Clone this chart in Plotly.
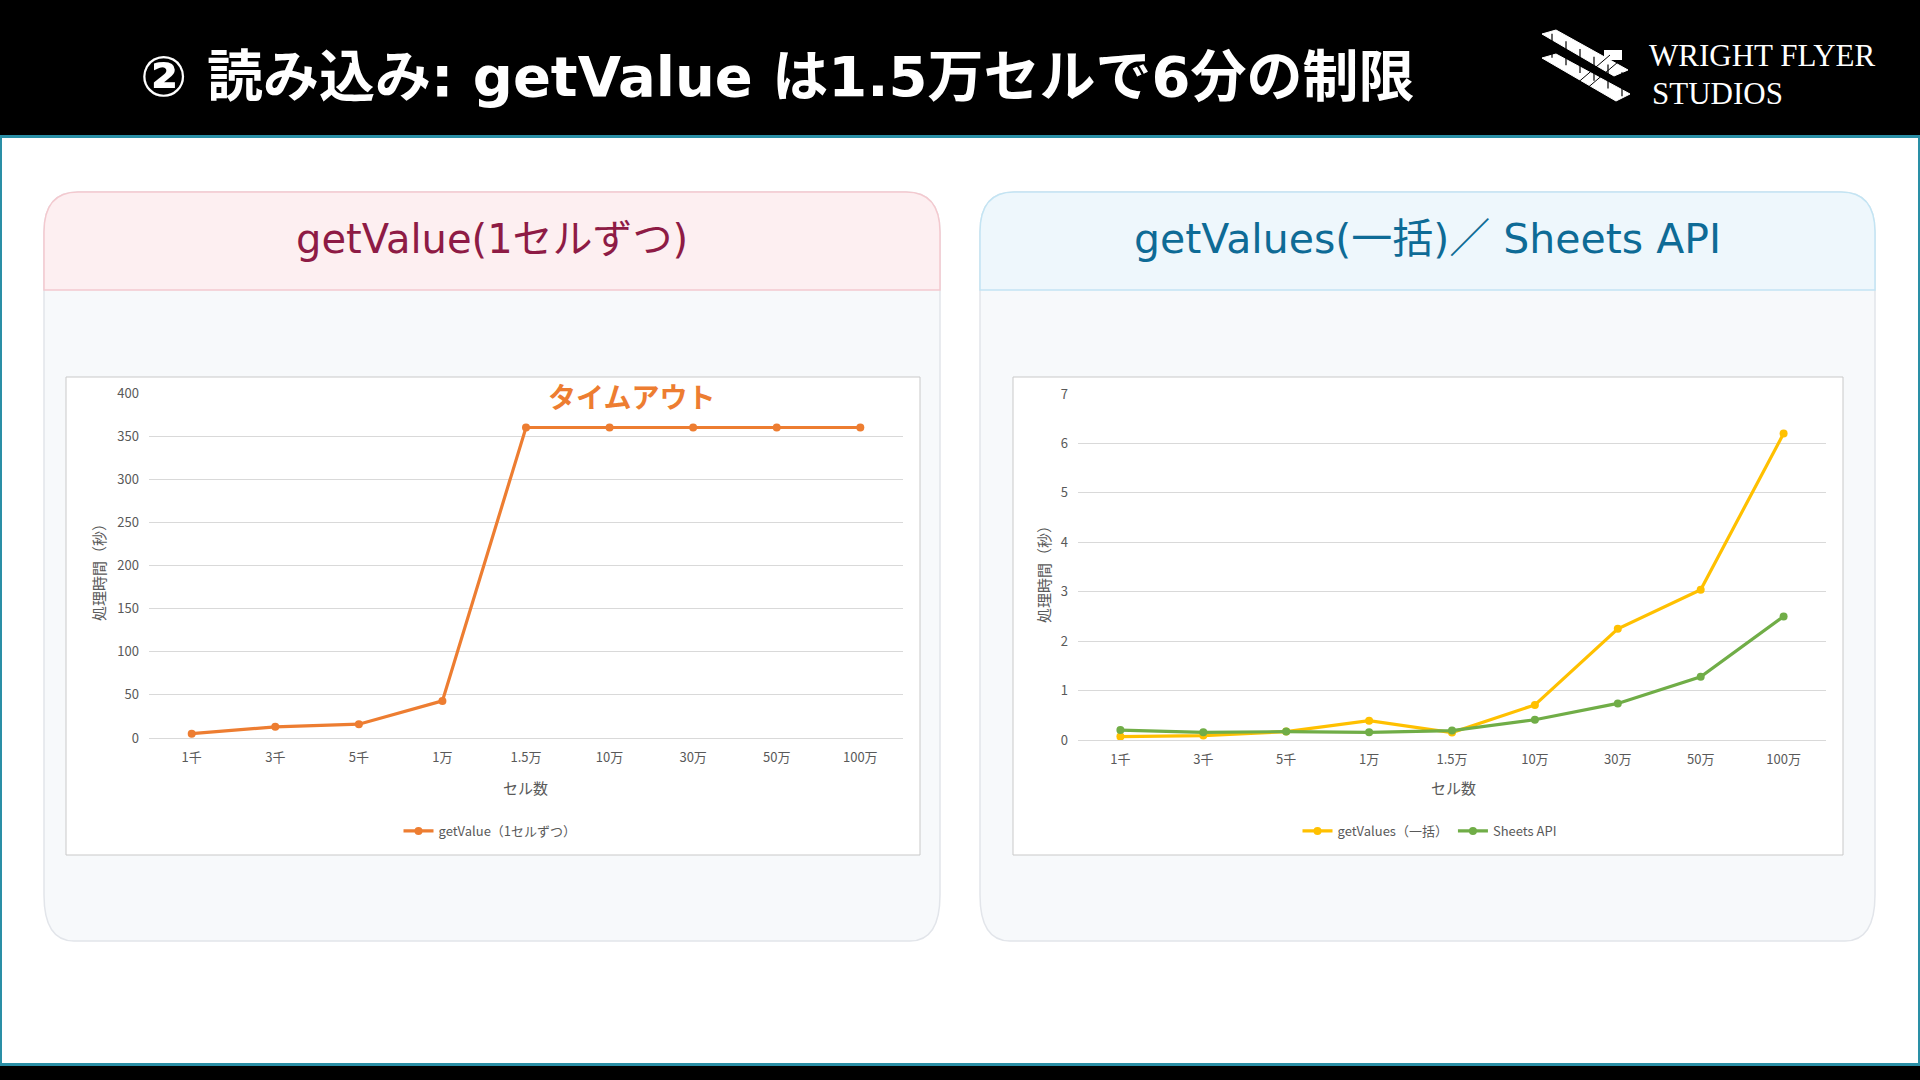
import plotly.graph_objects as go

W = 1920
H = 1080
FONT = "Noto Sans CJK JP"
HEAD_FONT = "DejaVu Sans, Noto Sans CJK JP"

cells = ["1千", "3千", "5千", "1万", "1.5万", "10万", "30万", "50万", "100万"]
get_value_sec = [5, 13, 16, 43, 360, 360, 360, 360, 360]
get_values_sec = [0.07, 0.09, 0.17, 0.39, 0.15, 0.71, 2.25, 3.04, 6.2]
sheets_api_sec = [0.2, 0.155, 0.17, 0.155, 0.19, 0.41, 0.74, 1.28, 2.5]

slide_title = "② 読み込み: getValue は1.5万セルで6分の制限"
left_heading = "getValue(1セルずつ)"
right_heading = "getValues(一括)／ Sheets API"
left_series = "getValue（1セルずつ）"
right_series = ["getValues（一括）", "Sheets API"]
y_title = "処理時間（秒）"
x_title = "セル数"

ORANGE = "#ED7D31"
YELLOW = "#FFC000"
GREEN = "#70AD47"
TEAL = "#2a8fa6"


def px(x):
    return x / W


def py(y):
    return 1 - y / H


def pt(x, y):
    return "%.5f,%.5f" % (px(x), py(y))


def rounded_path(x0, y0, x1, y1, rtx, rty, rbx, rby):
    # rounded box, separate radius for top and bottom corners
    p = "M " + pt(x0 + rtx, y0)
    p += " L " + pt(x1 - rtx, y0)
    p += " Q " + pt(x1, y0) + " " + pt(x1, y0 + rty)
    if rbx > 0:
        p += " L " + pt(x1, y1 - rby)
        p += " Q " + pt(x1, y1) + " " + pt(x1 - rbx, y1)
        p += " L " + pt(x0 + rbx, y1)
        p += " Q " + pt(x0, y1) + " " + pt(x0, y1 - rby)
    else:
        p += " L " + pt(x1, y1)
        p += " L " + pt(x0, y1)
    p += " L " + pt(x0, y0 + rty)
    p += " Q " + pt(x0, y0) + " " + pt(x0 + rtx, y0)
    return p + " Z"


def rect(x0, y0, x1, y1, fill, line_color=None, width=0):
    return dict(type="rect", xref="paper", yref="paper", layer="below",
                x0=px(x0), x1=px(x1), y0=py(y1), y1=py(y0),
                fillcolor=fill, line=dict(color=line_color or fill, width=width))


def path(d, fill, line_color, width):
    return dict(type="path", xref="paper", yref="paper", layer="below", path=d,
                fillcolor=fill, line=dict(color=line_color, width=width))


def line(x0, y0, x1, y1, color, width):
    return dict(type="line", xref="paper", yref="paper", layer="above",
                x0=px(x0), y0=py(y0), x1=px(x1), y1=py(y1),
                line=dict(color=color, width=width))


def build_shapes():
    shapes = [
        rect(0, 0, W, 136, "#000000"),
        rect(0, 135, W, 138, TEAL),
        rect(0, 136, 2, 1066, TEAL),
        rect(W - 2, 136, W, 1066, TEAL),
        rect(0, 1066, W, H, "#000000"),
        rect(0, 1063, W, 1066, TEAL),
    ]
    panels = [(44, 940, "#fdeff1", "#f3c9cf"), (980, 1875, "#eef7fc", "#c3e4f3")]
    for x0, x1, head_fill, head_line in panels:
        shapes.append(path(rounded_path(x0, 192, x1, 941, 34, 40, 30, 46), "#f7f9fb", "#e2e5ea", 1.5))
        shapes.append(path(rounded_path(x0, 192, x1, 290, 34, 40, 0, 0), head_fill, head_line, 1.5))
    shapes.append(rect(66, 377, 920, 855, "#ffffff", "#c9c9c9", 1))
    shapes.append(rect(1013, 377, 1843, 855, "#ffffff", "#c9c9c9", 1))
    # rough sketch of the flyer logo
    top_wing = "M " + pt(1542, 34) + " L " + pt(1556, 30) + " L " + pt(1628, 70) + " L " + pt(1614, 76) + " Z"
    low_wing = "M " + pt(1542, 58) + " L " + pt(1556, 54) + " L " + pt(1630, 94) + " L " + pt(1616, 101) + " Z"
    shapes.append(dict(type="path", xref="paper", yref="paper", path=top_wing,
                       fillcolor="#ffffff", line=dict(color="#ffffff", width=1)))
    shapes.append(dict(type="path", xref="paper", yref="paper", path=low_wing,
                       fillcolor="#ffffff", line=dict(color="#ffffff", width=1)))
    for sx in [1552, 1566, 1580, 1594, 1608, 1622]:
        off = (sx - 1549) * 0.55
        shapes.append(line(sx, 32 + off, sx, 56 + off, "#000000", 1.2))
    shapes.append(line(1575, 85, 1610, 55, "#000000", 1))
    shapes.append(line(1585, 90, 1618, 62, "#000000", 1))
    shapes.append(rect(1604, 50, 1622, 60, "#ffffff"))
    return shapes


def text(x, y, s, size, color, anchor="center", weight="normal", family=FONT, angle=0):
    return dict(xref="paper", yref="paper", x=px(x), y=py(y), text=s, showarrow=False,
                xanchor=anchor, yanchor="middle", textangle=angle,
                font=dict(family=family, size=size, color=color, weight=weight))


def build_annotations():
    gray = "#595959"
    return [
        text(138, 76, slide_title, 56, "#ffffff", "left", "bold", HEAD_FONT),
        text(1647, 56, "WRIGHT FLYER", 31, "#ffffff", "left", family="Liberation Serif"),
        text(1650, 93, "STUDIOS", 31, "#ffffff", "left", family="Liberation Serif"),
        text(492, 239, left_heading, 40, "#8e1b45", family=HEAD_FONT),
        text(1427, 239, right_heading, 41, "#0e6b96", family=HEAD_FONT),
        text(631, 396, "タイムアウト", 28, ORANGE, weight="bold"),
        text(98, 569, y_title, 15, gray, angle=-90),
        text(525, 787, x_title, 15, gray),
        text(1043, 571, y_title, 15, gray, angle=-90),
        text(1453, 787, x_title, 15, gray),
    ]


def add_series(name, values, color, axis_idx, legend_name):
    return go.Scatter(x=cells, y=values, name=name, mode="lines+markers",
                      line=dict(color=color, width=3.2), marker=dict(color=color, size=8),
                      xaxis="x" + axis_idx, yaxis="y" + axis_idx, legend=legend_name,
                      showlegend=True, hoverinfo="x+y")


def axis_pair(x0, x1, y_bottom, y_top, y_max, y_step):
    tick_font = dict(family=FONT, size=13, color="#595959")
    xa = dict(domain=[px(x0), px(x1)], type="category", showgrid=False, showline=False,
              zeroline=False, ticks="", tickfont=tick_font, ticklabelstandoff=10,
              automargin=False, fixedrange=True)
    ya = dict(domain=[py(y_bottom), py(y_top)], range=[0, y_max], dtick=y_step, showgrid=True,
              gridcolor="#d9d9d9", gridwidth=1, zeroline=True, zerolinecolor="#d9d9d9",
              zerolinewidth=1, showline=False, ticks="", tickfont=tick_font,
              ticklabelstandoff=9, automargin=False, fixedrange=True)
    return xa, ya


def legend_box(x, y):
    return dict(orientation="h", x=px(x), xanchor="center", y=py(y), yanchor="middle",
                bgcolor="rgba(0,0,0,0)", font=dict(family=FONT, size=13, color="#595959"),
                itemwidth=30, tracegroupgap=10)


def build_figure():
    traces = [
        add_series(left_series, get_value_sec, ORANGE, "", "legend"),
        add_series(right_series[0], get_values_sec, YELLOW, "2", "legend2"),
        add_series(right_series[1], sheets_api_sec, GREEN, "2", "legend2"),
    ]
    xa1, ya1 = axis_pair(149, 903, 738, 393, 400, 50)
    xa2, ya2 = axis_pair(1078, 1826, 740, 394, 7, 1)
    xa1["anchor"] = "y"
    ya1["anchor"] = "x"
    xa2["anchor"] = "y2"
    ya2["anchor"] = "x2"
    layout = dict(width=W, height=H, margin=dict(l=0, r=0, t=0, b=0, pad=0, autoexpand=False),
                  paper_bgcolor="#ffffff", plot_bgcolor="rgba(0,0,0,0)",
                  font=dict(family=FONT), showlegend=True,
                  xaxis=xa1, yaxis=ya1, xaxis2=xa2, yaxis2=ya2,
                  legend=legend_box(490, 831), legend2=legend_box(1430, 831),
                  shapes=build_shapes(), annotations=build_annotations())
    return go.Figure(data=traces, layout=layout)


# pin the graph to the page corner so the window shows exactly the 1920x1080 figure
pin_js = ("document.body.style.margin='0';document.body.style.overflow='hidden';"
          "var d=document.getElementById('{plot_id}');"
          "d.style.position='absolute';d.style.top='0px';d.style.left='0px';")

fig = build_figure()
fig.write_html("out.html", config=dict(displayModeBar=False), post_script=pin_js)
